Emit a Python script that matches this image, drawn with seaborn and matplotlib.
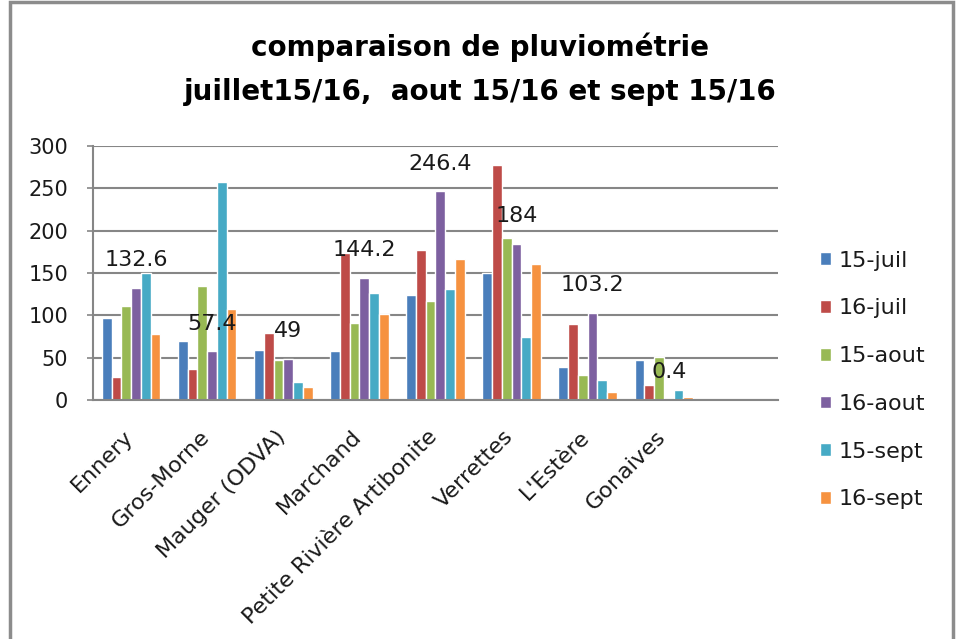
import matplotlib
matplotlib.use("Agg")
import matplotlib.pyplot as plt
import matplotlib.transforms as mtransforms
import seaborn as sns
import pandas as pd
from matplotlib.patches import Rectangle

categories = ["Ennery", "Gros-Morne", "Mauger (ODVA)", "Marchand",
              "Petite Rivière Artibonite", "Verrettes", "L'Estère", "Gonaives"]
series = ["15-juil", "16-juil", "15-aout", "16-aout", "15-sept", "16-sept"]

juil15 = [97, 70, 59, 58, 124, 150, 39, 47]
juil16 = [27, 37, 79, 174, 177, 277, 90, 18]
aout15 = [111, 135, 47, 91, 117, 191, 30, 51]
aout16 = [132.6, 57.4, 49, 144.2, 246.4, 184, 103.2, 0.4]
sept15 = [150, 257, 21, 126, 131, 75, 24, 12]
sept16 = [78, 108, 15, 102, 167, 161, 9, 3]

values = [juil15, juil16, aout15, aout16, sept15, sept16]
label_series = "16-aout"
label_texts = ["132.6", "57.4", "49", "144.2", "246.4", "184", "103.2", "0.4"]
title_lines = ["comparaison de pluviométrie",
               "juillet15/16,  aout 15/16 et sept 15/16"]

colors = ["#4A7EBB", "#BE4B48", "#98B954", "#7D60A0", "#46AAC5", "#F69240"]

rows = []
for s, vals in zip(series, values):
    for c, v in zip(categories, vals):
        rows.append({"site": c, "serie": s, "valeur": v})
df = pd.DataFrame(rows)

sns.set_theme(style="white")
plt.rcParams["font.family"] = ["DejaVu Sans"]

W, H = 959, 639
fig = plt.figure(figsize=(W / 100, H / 100), dpi=100)
ax = fig.add_axes([93 / W, 1 - 400 / H, (778 - 93) / W, (400 - 146) / H])

sns.barplot(data=df, x="site", y="valeur", hue="serie", order=categories,
            hue_order=series, palette=colors, width=0.77, ax=ax,
            edgecolor="white", linewidth=1.0, saturation=1, legend=True)

ax.set_xlim(-0.5, 8.5)
ax.set_ylim(0, 300)
ax.set_yticks([0, 50, 100, 150, 200, 250, 300])
ax.yaxis.grid(True, color="#868686", linewidth=1.5)
ax.set_axisbelow(True)
for side in ["top", "right"]:
    ax.spines[side].set_visible(False)
for side in ["left", "bottom"]:
    ax.spines[side].set_color("#868686")
    ax.spines[side].set_linewidth(1.5)
ax.set_xlabel("")
ax.set_ylabel("")
ax.tick_params(axis="y", length=4, width=1.2, color="#868686", pad=14,
               labelsize=15, labelcolor="#1a1a1a", left=True)
ax.tick_params(axis="x", length=0, pad=19, labelsize=16, labelcolor="#1a1a1a")
ax.set_xticks(range(len(categories)))
ax.set_xticklabels(categories, rotation=45, ha="right", va="top",
                   rotation_mode="default")
shift = mtransforms.ScaledTranslation(6 / 100, 0, fig.dpi_scale_trans)
for lbl in ax.get_xticklabels():
    lbl.set_transform(lbl.get_transform() + shift)

# data labels for 16-aout series
idx = series.index(label_series)
cont = ax.containers[idx]
for bar, txt in zip(cont, label_texts):
    x = bar.get_x() + bar.get_width() / 2
    y = bar.get_height()
    ax.annotate(txt, (x, y), xytext=(0, 20), textcoords="offset points",
                ha="center", va="center", fontsize=16, color="#1a1a1a")

leg = ax.get_legend()
handles = leg.legend_handles
leg.remove()
fig.legend(handles, series, loc="center left",
           bbox_to_anchor=(800 / W, 1 - 380 / H), frameon=False,
           fontsize=16, handlelength=0.5, handleheight=0.5,
           handletextpad=0.35, labelspacing=1.25, labelcolor="#1a1a1a")

fig.text(480 / W, 1 - 47 / H, title_lines[0], ha="center", va="center",
         fontsize=20, fontweight="bold", color="black")
fig.text(480 / W, 1 - 92 / H, title_lines[1], ha="center", va="center",
         fontsize=20, fontweight="bold", color="black")

fig.patches.append(Rectangle((10 / W, -0.02), (953 - 10) / W, 1 - 1.5 / H + 0.02,
                             transform=fig.transFigure, fill=False,
                             edgecolor="#8c8c8c", linewidth=2.5))

fig.savefig("out.png", dpi=100)
